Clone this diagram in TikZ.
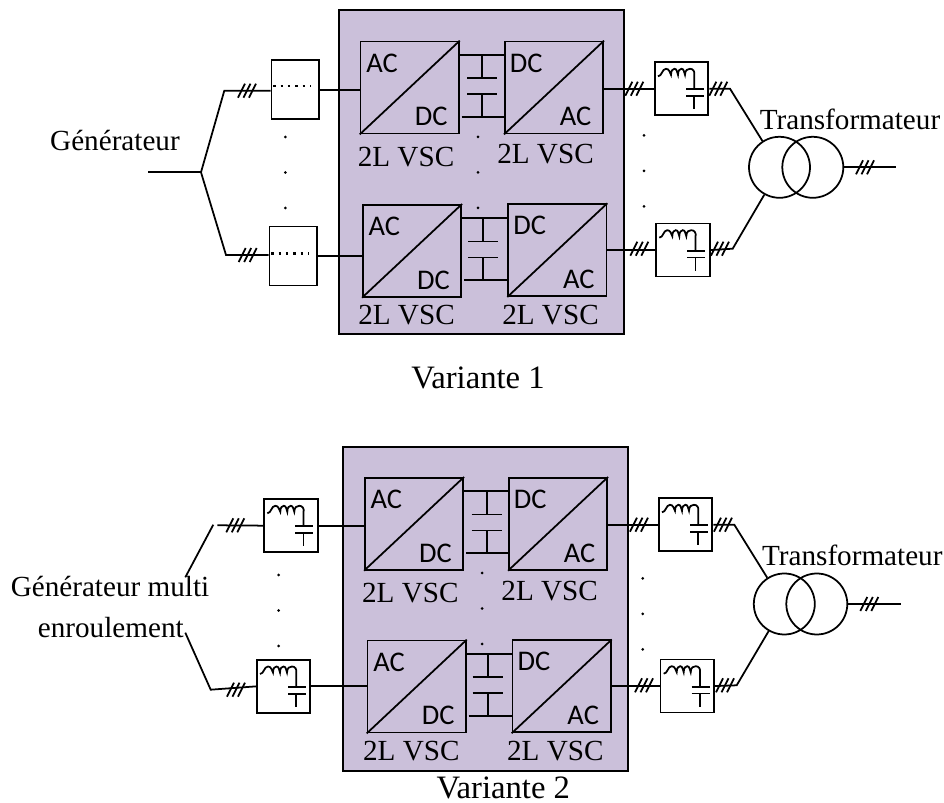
\documentclass[tikz,border=0pt]{standalone}
\usepackage{fontspec}
\setmainfont{Liberation Serif}
\newfontfamily\calfont{Carlito}
\definecolor{panelfill}{RGB}{203,192,218}
\tikzset{
    wire/.style={line width=1pt},
    panel/.style={draw, wire, fill=panelfill, anchor=north west, inner sep=0, minimum width=5.7cm, minimum height=6.48cm},
    conv/.style={draw, wire, anchor=north west, inner sep=0, minimum width=1.966cm, minimum height=1.84cm},
    fbox/.style={draw, wire, anchor=north west, inner sep=0, minimum width=1.07cm, minimum height=1.06cm},
    gbox/.style={draw, wire, anchor=north west, inner sep=0, minimum width=0.95cm, minimum height=1.18cm},
    trafo/.style={draw, wire, circle, inner sep=0, minimum size=1.22cm},
    txt/.style={inner sep=0, font=\fontsize{16.6}{18}\selectfont},
    vartxt/.style={inner sep=0, font=\fontsize{18.6}{20}\selectfont},
    cal/.style={inner sep=0, font=\calfont\fontsize{16.2}{18}\selectfont},
    rowdots/.style={line width=1.3pt, dash pattern=on 1.4pt off 2.8pt},
    tribar/.pic={
        \draw[wire] (-9,7) -- (-2,-7);
        \draw[wire] (-3.5,7) -- (3.5,-7);
        \draw[wire] (2,7) -- (9,-7);
    }
}
% converter box: name, x, y, upper label, lower label
\newcommand{\convbox}[5]{
    \node[conv] (#1) at (#2,#3) {};
    \draw[wire] (#1.south west) -- (#1.north east);
    \node[cal] (#1u) at ([shift={(22.3,22.3)}]#1.north west) {#4};
    \node[cal] (#1l) at ([shift={(71.5,76)}]#1.north west) {#5};
}
% filter box: name, x, y
\newcommand{\filterbox}[3]{
    \node[fbox] (#1) at (#2,#3) {};
    \begin{scope}[shift={(#1.north west)}]
        \draw[wire] (4,15) .. controls (8,15) and (8,7.5) .. (12,7.5) .. controls (15,7.5) and (16,11) .. (17,13.5)
            .. controls (17,9) and (19,7.5) .. (20.5,7.5) .. controls (23,7.5) and (23,11) .. (24,13.5)
            .. controls (24,9) and (26,7.5) .. (27.5,7.5) .. controls (30,7.5) and (30,11) .. (31,13.5)
            .. controls (31,8.5) and (34,7.5) .. (36,7.5) .. controls (39,7.5) and (41,10) .. (40.3,14) -- (40.3,28);
        \draw[wire] (32,28) -- (50,28);
        \draw[wire] (32,34.7) -- (50,34.7);
        \draw[wire] (40.3,34.7) -- (40.3,48);
    \end{scope}
}
% dc link between two converters: name, left box, right box, x of the capacitors
\newcommand{\dclink}[4]{
    \path (#2.north east) ++(0,14.3) coordinate (#1a);
    \path (#2.north east) ++(2,76) coordinate (#1b);
    \coordinate (#1x) at (#4,0);
    \draw[wire] (#1a) -- (#1a -| #3.west);
    \draw[wire] (#1b) -- (#1b -| #3.west);
    \draw[wire] (#1a -| #1x) -- ++(0,23.3) ++(-15,0) -- ++(30,0);
    \draw[wire] (#1b -| #1x) -- ++(0,-22.6) ++(-15,0) -- ++(30,0);
}
% three dots, one under the other
\newcommand{\tridots}[2]{
    \fill (#1,#2) circle (1.5);
    \fill (#1,#2+35.5) circle (1.5);
    \fill (#1,#2+71) circle (1.5);
}
\begin{document}
\begin{tikzpicture}[x=0.02cm,y=-0.02cm]
    \useasboundingbox (0,0) rectangle (944,803);

    % Variante 1
    \node[panel] (p1) at (338,9) {};

    \convbox{a1}{359.7}{40.7}{AC}{DC}
    \convbox{b1}{504}{40.7}{DC}{AC}
    \convbox{c1}{362}{204}{AC}{DC}
    \convbox{d1}{507.3}{203.3}{DC}{AC}
    \dclink{k1}{a1}{b1}{482}
    \dclink{m1}{c1}{d1}{483.3}

    \node[txt] (va1) at (406,157) {2L VSC};
    \node[txt] (vb1) at (545.5,154) {2L VSC};
    \node[txt] (vc1) at (406.5,315) {2L VSC};
    \node[txt] (vd1) at (550.5,315) {2L VSC};
    \tridots{478}{137}

    \node[gbox] (g1) at (270.7,59.5) {};
    \node[gbox] (g2) at (268.7,225.7) {};
    \draw[rowdots] ([shift={(2.5,26.7)}]g1.north west) -- ++(38,0);
    \draw[rowdots] ([shift={(2.5,27.7)}]g2.north west) -- ++(38,0);
    \draw[wire] (g1.east) -- (g1.east -| a1.west);
    \draw[wire] (g2.east) -- (g2.east -| c1.west);

    \coordinate (s1) at (148,172.3);
    \coordinate (j1) at (201,172.3);
    \coordinate (u1) at (224.3,90.7);
    \coordinate (w1) at (226,255);
    \draw[wire] (s1) -- (j1);
    \draw[wire] (j1) -- (u1) -- (u1 -| g1.west);
    \draw[wire] (j1) -- (w1) -- (w1 -| g2.west);
    \pic at (247,90.7) {tribar};
    \pic at (247.7,255) {tribar};
    \tridots{285.3}{137}
    \node[txt] (gen1) at (115,141) {Générateur};

    \filterbox{f1}{654}{61.3}
    \filterbox{f2}{655.3}{222.7}
    \draw[wire] (b1.east |- f1.west) -- (f1.west);
    \draw[wire] (d1.east |- f2.west) -- (f2.west);
    \pic at (634.3,88.7) {tribar};
    \pic at (639.3,248.7) {tribar};
    \tridots{644}{135.5}

    \node[trafo] (t1) at (779.5,167.3) {};
    \node[trafo] (t2) at (812.8,167.3) {};
    \coordinate (r1) at (730,88.7);
    \coordinate (r2) at (732.7,248.7);
    \coordinate (o1) at (896,167.3);
    \draw[wire] (f1.east) -- (r1) -- (t1.123);
    \draw[wire] (f2.east) -- (r2) -- (t1.241);
    \draw[wire] (t2.east) -- (o1);
    \pic at (718.3,88.7) {tribar};
    \pic at (720,248.7) {tribar};
    \pic at (865,167.3) {tribar};
    \node[txt] (tr1) at (850,119) {Transformateur};
    \node[vartxt] (var1) at (478,378) {Variante 1};

    % Variante 2
    \node[panel] (p2) at (342.3,446) {};

    \convbox{a2}{364}{477}{AC}{DC}
    \convbox{b2}{508}{477}{DC}{AC}
    \convbox{c2}{366.7}{639.7}{AC}{DC}
    \convbox{d2}{511.7}{639.5}{DC}{AC}
    \dclink{k2}{a2}{b2}{486.7}
    \dclink{m2}{c2}{d2}{487.7}

    \node[txt] (va2) at (410.3,593.3) {2L VSC};
    \node[txt] (vb2) at (549.7,591) {2L VSC};
    \node[txt] (vc2) at (411.3,751) {2L VSC};
    \node[txt] (vd2) at (555.3,751) {2L VSC};
    \tridots{482}{573}

    \filterbox{f3}{263.3}{498.3}
    \filterbox{f4}{256}{659}
    \coordinate (u2) at (213.3,524.7);
    \coordinate (u3) at (185.3,577.3);
    \coordinate (w2) at (210.7,689.7);
    \coordinate (w3) at (185.3,632.7);
    \coordinate (u4) at (217.3,525.3);
    \draw[wire] (u4) -- (f3.west);
    \draw[wire] (u2) -- (u3);
    \draw[wire] (w3) -- (w2) -- (f4.west);
    \draw[wire] (f3.east) -- (f3.east -| a2.west);
    \draw[wire] (f4.east) -- (f4.east -| c2.west);
    \pic at (235.3,525.3) {tribar};
    \pic at (236,689.7) {tribar};
    \tridots{278.7}{575}
    \node[txt] (gen2) at (110,587) {Générateur multi};
    \node[txt] (gen3) at (110.8,628) {enroulement};

    \filterbox{f5}{658}{497.3}
    \filterbox{f6}{659.7}{658.7}
    \draw[wire] (b2.east |- f5.west) -- (f5.west);
    \draw[wire] (d2.east |- f6.west) -- (f6.west);
    \pic at (639,524.7) {tribar};
    \pic at (644,685.3) {tribar};
    \tridots{642.7}{578.3}

    \node[trafo] (t3) at (784.3,604) {};
    \node[trafo] (t4) at (816.8,604) {};
    \coordinate (r3) at (734.3,524.7);
    \coordinate (r4) at (736.7,685.3);
    \coordinate (o2) at (900.7,604);
    \draw[wire] (f5.east) -- (r3) -- (t3.123);
    \draw[wire] (f6.east) -- (r4) -- (t3.240);
    \draw[wire] (t4.east) -- (o2);
    \pic at (723,524.7) {tribar};
    \pic at (725,685.3) {tribar};
    \pic at (869.3,604) {tribar};
    \node[txt] (tr2) at (852.3,555) {Transformateur};
    \node[vartxt] (var2) at (503.3,788) {Variante 2};
\end{tikzpicture}
\end{document}
